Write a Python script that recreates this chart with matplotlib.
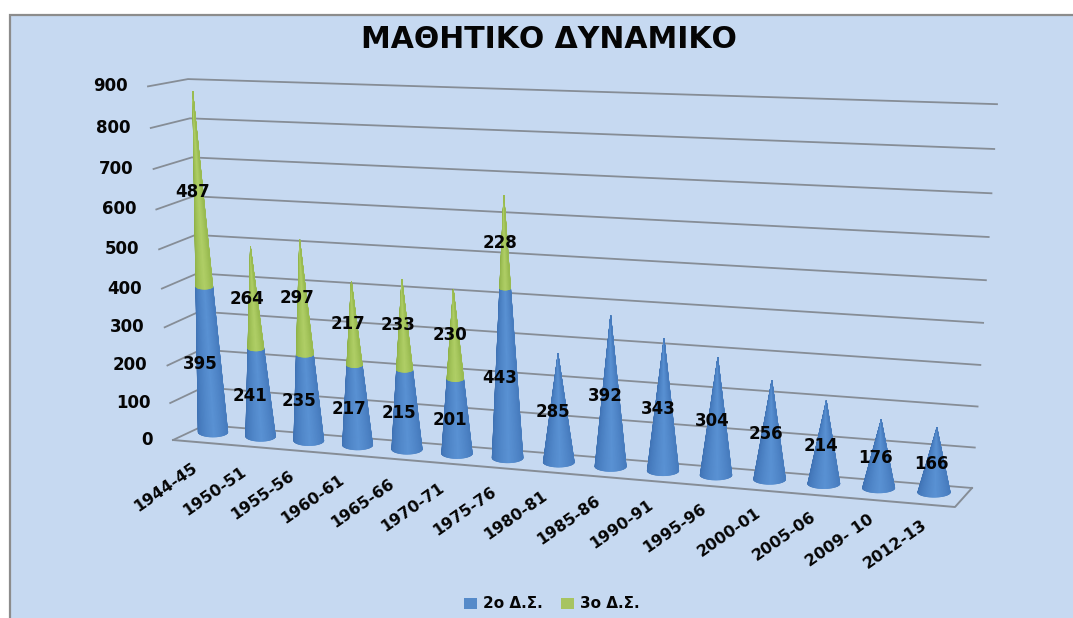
import numpy as np
import matplotlib
matplotlib.use("Agg")
import matplotlib.pyplot as plt
from matplotlib.collections import PolyCollection
from matplotlib.patches import Rectangle, Patch
from matplotlib.transforms import Transform

years = ['1944-45', '1950-51', '1955-56', '1960-61', '1965-66', '1970-71', '1975-76', '1980-81',
         '1985-86', '1990-91', '1995-96', '2000-01', '2005-06', '2009- 10', '2012-13']
second = [395, 241, 235, 217, 215, 201, 443, 285, 392, 343, 304, 256, 214, 176, 166]
third = [487, 264, 297, 217, 233, 230, 228, 0, 0, 0, 0, 0, 0, 0, 0]
y_ticks = [0, 100, 200, 300, 400, 500, 600, 700, 800, 900]
title = 'ΜΑΘΗΤΙΚΟ ΔΥΝΑΜΙΚΟ'
series_names = ['2ο Δ.Σ.', '3ο Δ.Σ.']

BLUE_EDGE, BLUE_MID = np.array([0.24, 0.44, 0.70]), np.array([0.35, 0.57, 0.83])
GREEN_EDGE, GREEN_MID = np.array([0.55, 0.69, 0.27]), np.array([0.69, 0.81, 0.40])
GRID = '#868d96'
BG = '#c6d9f1'
TXT = '#050505'


class ChartProjection(Transform):
    """Category index and value -> picture pixels, imitating the 3-D view."""
    input_dims = output_dims = 2

    def transform_non_affine(self, values):
        values = np.asarray(values, float)
        i, v = values[:, 0], values[:, 1]
        x = 213 + 47.3 * i + 0.3 * i ** 2 + (-0.023 + 0.0029 * i) * v
        y = 432 + 4.3 * i - v * (0.355 + 0.000035 * v) * (1 + 0.0055 * i)
        return np.column_stack([x, y])


proj = ChartProjection()


def wall(x0, dx, y0, a, b, v):
    return x0 + dx * v / 900, y0 - v * (a + b * v)


fig = plt.figure(figsize=(10.73, 6.18), dpi=100, facecolor='white')
ax = fig.add_axes([0, 0, 1, 1])
ax.set_xlim(0, 1073)
ax.set_ylim(618, 0)
ax.axis('off')
ax.add_patch(Rectangle((10, 15), 1070, 610, fc=BG, ec='#8c8c8c', lw=1.6, zorder=0))

# walls and floor
for v in y_ticks:
    fx, fy = wall(173, -25, 440, 0.367, 0.0000288, v)
    lx, ly = wall(205, -17, 425, 0.375, 0.0000104, v)
    rx, ry = wall(972, 25, 488, 0.402, 0.0000272, v)
    ax.plot([fx, lx, rx], [fy, ly, ry], color=GRID, lw=1.3, zorder=1, solid_joinstyle='miter')
    ax.text(fx - 20, fy, str(v), ha='right', va='center', fontsize=12, fontweight='bold', color=TXT, zorder=6)
ax.plot([173, 955, 972], [440, 507, 488], color=GRID, lw=1.4, zorder=1)

# cones
HALF_W0, HALF_W1, HALF_H = 14.8, 16.3, 5.0
N = 60
ts = np.linspace(np.pi, 0, N + 1)
for i, (a, b) in enumerate(zip(second, third)):
    total = a + b
    (cx, cy), (tx, ty) = proj.transform([[i, 0], [i, total]])
    hw = HALF_W0 + (HALF_W1 - HALF_W0) * i / 14
    bx = cx + hw * np.cos(ts)
    by = cy + HALF_H * np.sin(ts)
    shade = np.clip(1 - np.abs((np.cos((ts[:-1] + ts[1:]) / 2) - 0.1)) / 1.1, 0, 1) ** 0.6
    for lo, hi, ce, cm in [(0, a, BLUE_EDGE, BLUE_MID), (a, total, GREEN_EDGE, GREEN_MID)]:
        if hi <= lo:
            continue
        f0 = (proj.transform([[i, lo]])[0][1] - cy) / (ty - cy)
        f1 = (proj.transform([[i, hi]])[0][1] - cy) / (ty - cy)
        px0, py0 = bx + (tx - bx) * f0, by + (ty - by) * f0
        px1, py1 = bx + (tx - bx) * f1, by + (ty - by) * f1
        polys = [[(px0[k], py0[k]), (px0[k + 1], py0[k + 1]), (px1[k + 1], py1[k + 1]), (px1[k], py1[k])]
                 for k in range(N)]
        cols = [tuple(ce + (cm - ce) * s) for s in shade]
        ax.add_collection(PolyCollection(polys, facecolors=cols, edgecolors=cols, linewidths=0.5, zorder=3 + i * 0.01))

# value labels
for i, (a, b) in enumerate(zip(second, third)):
    off = np.array([-8 + 0.3 * i, 3.5])
    p = proj.transform([[i, a / 2]])[0] + off
    ax.text(p[0], p[1], str(a), ha='center', va='center', fontsize=12, fontweight='bold', color=TXT, zorder=7)
    if b:
        p = proj.transform([[i, a + b / 2]])[0] + off + np.array([2, -3])
        ax.text(p[0], p[1], str(b), ha='center', va='center', fontsize=12, fontweight='bold', color=TXT, zorder=7)

# category labels
for i, y in enumerate(years):
    p = proj.transform([[i, 0]])[0]
    ax.text(p[0] - 47 + 0.6 * i, p[1] + 55 - 0.2 * i, y, rotation=35, rotation_mode='anchor',
            ha='center', va='center', fontsize=11.5, fontweight='bold', color=TXT, zorder=6)

ax.text(549, 40, title, ha='center', va='center', fontsize=21.5, fontweight='bold', color=TXT)

leg = ax.legend(handles=[Patch(fc=BLUE_MID * 0.95, label=series_names[0]), Patch(fc=GREEN_MID * 0.95, label=series_names[1])],
                loc='center', bbox_to_anchor=(552, 604), bbox_transform=ax.transData, ncol=2, frameon=False,
                prop={'size': 11, 'weight': 'bold'}, handlelength=0.85, handleheight=0.75, handletextpad=0.4, columnspacing=1.2)
for t in leg.get_texts():
    t.set_color(TXT)

fig.savefig('out.png', dpi=100, facecolor='white')
